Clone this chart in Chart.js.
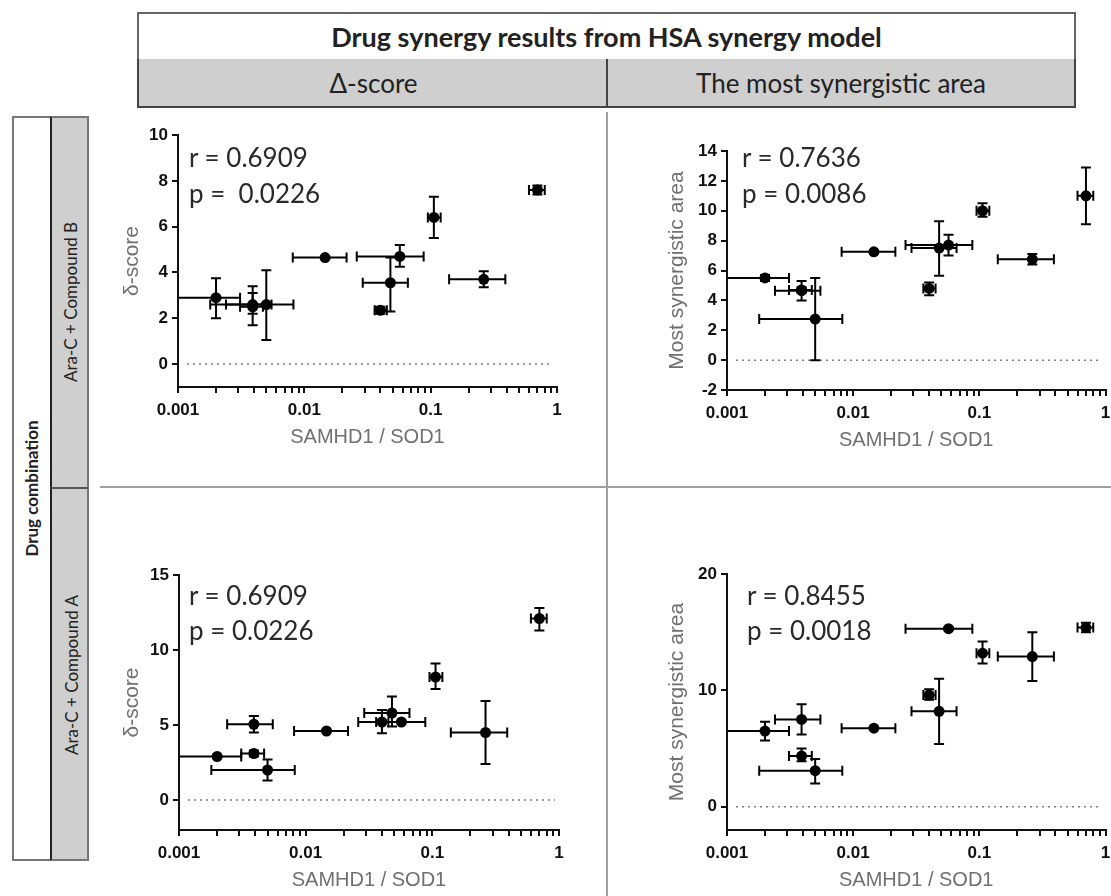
<!DOCTYPE html>
<html>
<head>
<meta charset="utf-8">
<script src="https://cdn.jsdelivr.net/npm/chart.js@4.4.1/dist/chart.umd.min.js"></script>
<style>
  body { margin: 0; width: 1111px; height: 896px; position: relative; overflow: hidden; background: #fff; font-family: Lato, sans-serif; }
  .box { position: absolute; box-sizing: border-box; }
  .cell { display: flex; align-items: center; justify-content: center; color: #222; }
  .rot { position: absolute; display: flex; align-items: center; justify-content: center; transform: rotate(-90deg); color: #222; white-space: nowrap; }
  .stat { position: absolute; font-family: Lato, sans-serif; font-size: 26px; color: #2a2a2a; line-height: 36px; white-space: pre; }
  canvas { position: absolute; }
</style>
</head>
<body>

<!-- table header -->
<div class="box cell" style="left:137px; top:12px; width:939px; height:49px; border:2px solid #666; border-bottom:2px solid #222; font-weight:bold; font-size:27px;">Drug synergy results from HSA synergy model</div>
<div class="box cell" style="left:137px; top:59px; width:471px; height:49px; background:#cfcfcf; border-left:2px solid #444; border-bottom:2px solid #444; font-size:26px;">Δ-score</div>
<div class="box cell" style="left:606px; top:59px; width:470px; height:49px; background:#cfcfcf; border-left:2px solid #444; border-right:2px solid #444; border-bottom:2px solid #444; font-size:26px;">The most synergistic area</div>

<!-- row header -->
<div class="box" style="left:12px; top:116px; width:77px; height:745px; border:2px solid #777;"></div>
<div class="box" style="left:50px; top:116px; width:39px; height:745px; background:#cfcfcf; border-left:2px solid #222; border-right:2px solid #777; border-top:2px solid #777; border-bottom:2px solid #777;"></div>
<div class="box" style="left:51px; top:487px; width:37px; height:2px; background:#555;"></div>
<div class="rot" style="left:-341px; top:469px; width:745px; height:39px; font-weight:bold; font-size:17px;">Drug combination</div>
<div class="rot" style="left:-116px; top:283px; width:372px; height:38px; font-size:17px;">Ara-C + Compound B</div>
<div class="rot" style="left:-116px; top:656px; width:373px; height:38px; font-size:17px;">Ara-C + Compound A</div>

<!-- panel dividers -->
<div class="box" style="left:606px; top:112px; width:2px; height:784px; background:#a0a0a0;"></div>
<div class="box" style="left:100px; top:486px; width:1011px; height:2px; background:#a0a0a0;"></div>

<canvas id="tl" width="500" height="329" style="left:100px; top:120px;"></canvas>
<canvas id="tr" width="484" height="332" style="left:627px; top:120px;"></canvas>
<canvas id="bl" width="500" height="352" style="left:100px; top:540px;"></canvas>
<canvas id="br" width="484" height="352" style="left:627px; top:540px;"></canvas>

<div class="stat" style="left:189px; top:139px;">r = 0.6909</div>
<div class="stat" style="left:189px; top:175px;">p =  0.0226</div>
<div class="stat" style="left:742px; top:139px;">r = 0.7636</div>
<div class="stat" style="left:742px; top:175px;">p = 0.0086</div>
<div class="stat" style="left:189px; top:577px;">r = 0.6909</div>
<div class="stat" style="left:189px; top:612px;">p = 0.0226</div>
<div class="stat" style="left:747px; top:577px;">r = 0.8455</div>
<div class="stat" style="left:747px; top:612px;">p = 0.0018</div>

<script>
// SAMHD1 / SOD1 ratio per sample (mean and error range)
const xVals = [0.002, 0.0039, 0.0039, 0.005, 0.0146, 0.040, 0.048, 0.057, 0.106, 0.263, 0.70];
const xLow  = [0.0008, 0.0024, 0.0031, 0.0018, 0.0081, 0.036, 0.029, 0.026, 0.095, 0.14, 0.60];
const xHigh = [0.0031, 0.0055, 0.0047, 0.0082, 0.0216, 0.045, 0.066, 0.088, 0.12, 0.39, 0.80];

// Ara-C + Compound B
const deltaB     = [2.9, 2.6, 2.5, 2.6, 4.65, 2.35, 3.55, 4.7, 6.4, 3.7, 7.6];
const deltaBLow  = [2.0, 1.7, 2.2, 1.05, 4.6, 2.2, 2.3, 4.25, 5.5, 3.35, 7.4];
const deltaBHigh = [3.75, 3.4, 3.1, 4.1, 4.7, 2.5, 4.65, 5.2, 7.3, 4.05, 7.8];
const areaB      = [5.5, 4.65, 4.7, 2.75, 7.25, 4.8, 7.5, 7.7, 10.0, 6.75, 11.0];
const areaBLow   = [5.3, 4.0, 4.5, 0, 7.2, 4.35, 5.65, 7.0, 9.6, 6.4, 9.1];
const areaBHigh  = [5.7, 5.3, 4.9, 5.5, 7.3, 5.2, 9.3, 8.4, 10.5, 7.1, 12.9];

// Ara-C + Compound A
const deltaA     = [2.9, 5.05, 3.1, 2.0, 4.6, 5.2, 5.8, 5.2, 8.2, 4.5, 12.1];
const deltaALow  = [2.85, 4.5, 2.9, 1.3, 4.55, 4.45, 4.9, 5.15, 7.4, 2.4, 11.3];
const deltaAHigh = [2.95, 5.6, 3.3, 2.7, 4.65, 6.0, 6.9, 5.25, 9.1, 6.6, 12.8];
const areaA      = [6.5, 7.5, 4.35, 3.1, 6.75, 9.6, 8.2, 15.3, 13.2, 12.9, 15.4];
const areaALow   = [5.7, 6.2, 3.9, 2.0, 6.7, 9.2, 5.4, 15.2, 12.3, 10.8, 15.0];
const areaAHigh  = [7.3, 8.8, 5.0, 4.1, 6.8, 10.1, 11.0, 15.4, 14.2, 15.0, 15.8];

// axes
const xMajor = [0.001, 0.01, 0.1, 1];
const xTickLabels = ['0.001', '0.01', '0.1', '1'];
const deltaBTicks = [0, 2, 4, 6, 8, 10];
const areaBTicks = [-2, 0, 2, 4, 6, 8, 10, 12, 14];
const deltaATicks = [0, 5, 10, 15];
const areaATicks = [0, 10, 20];

const xAllTicks = [];
xMajor.slice(0, 3).forEach(d => { for (let k = 1; k < 10; k++) xAllTicks.push(k * d); });
xAllTicks.push(1);

const errorBars = {
  id: 'errorBars',
  beforeDatasetsDraw(chart) {
    const { ctx, chartArea: a, scales: { x, y } } = chart;
    const ds = chart.data.datasets[0];
    ctx.save();
    const y0 = y.getPixelForValue(0);
    ctx.strokeStyle = '#808080';
    ctx.lineWidth = 1.5;
    ctx.setLineDash([2, 4]);
    ctx.beginPath();
    ctx.moveTo(a.left + 9, y0);
    ctx.lineTo(a.right - 4, y0);
    ctx.stroke();
    ctx.setLineDash([]);

    ctx.beginPath();
    ctx.rect(a.left + 1, a.top - 20, a.right - a.left + 20, a.bottom - a.top + 40);
    ctx.clip();
    ctx.strokeStyle = '#000';
    ctx.lineWidth = 2;
    const cap = 5;
    xVals.forEach((xv, i) => {
      const px = x.getPixelForValue(xv);
      const py = y.getPixelForValue(ds.yMid[i]);
      const l = x.getPixelForValue(xLow[i]);
      const r = x.getPixelForValue(xHigh[i]);
      const t = y.getPixelForValue(ds.yHi[i]);
      const b = y.getPixelForValue(ds.yLo[i]);
      ctx.beginPath();
      ctx.moveTo(l, py); ctx.lineTo(r, py);
      ctx.moveTo(l, py - cap); ctx.lineTo(l, py + cap);
      ctx.moveTo(r, py - cap); ctx.lineTo(r, py + cap);
      ctx.moveTo(px, t); ctx.lineTo(px, b);
      ctx.moveTo(px - cap, t); ctx.lineTo(px + cap, t);
      ctx.moveTo(px - cap, b); ctx.lineTo(px + cap, b);
      ctx.stroke();
    });
    ctx.restore();
  }
};

const tickFont = { family: 'Liberation Sans', size: 17, weight: 'bold' };

function panel(id, p) {
  new Chart(document.getElementById(id), {
    type: 'scatter',
    data: {
      datasets: [{
        data: xVals.map((x, i) => ({ x: x, y: p.y[i] })),
        yMid: p.y, yLo: p.lo, yHi: p.hi,
        backgroundColor: '#000',
        pointRadius: 5.5,
        borderWidth: 0
      }]
    },
    options: {
      responsive: false,
      animation: false,
      layout: { padding: { left: 0, top: p.top, right: p.right, bottom: 0 } },
      plugins: { legend: { display: false }, tooltip: { enabled: false } },
      scales: {
        x: {
          type: 'logarithmic', min: 0.001, max: 1,
          afterBuildTicks: s => { s.ticks = xAllTicks.map(v => ({ value: v })); },
          afterFit: s => { s.height = p.xH; s.paddingLeft = 0; s.paddingRight = 0; },
          ticks: {
            autoSkip: false, maxRotation: 0, padding: 7, color: '#111', font: tickFont,
            callback: v => { const i = xMajor.indexOf(v); return i >= 0 ? xTickLabels[i] : ''; }
          },
          grid: { drawOnChartArea: false, tickLength: 6, color: '#111', lineWidth: 2 },
          border: { color: '#111', width: 2 },
          title: { display: true, text: 'SAMHD1 / SOD1', color: '#707070', font: { family: 'Liberation Sans', size: 20 }, padding: 0 }
        },
        y: {
          min: p.min, max: p.max,
          afterBuildTicks: s => { s.ticks = p.ticks.map(v => ({ value: v })); },
          afterFit: s => { s.width = p.yW; s.paddingTop = 0; s.paddingBottom = 0; },
          ticks: { padding: 4, color: '#111', font: tickFont },
          grid: { drawOnChartArea: false, tickLength: 6, color: '#111', lineWidth: 2 },
          border: { color: '#111', width: 2 },
          title: { display: true, text: p.title, color: '#707070', font: { family: 'Liberation Sans', size: 21 }, padding: { top: p.titlePad, bottom: 0 } }
        }
      }
    },
    plugins: [errorBars]
  });
}

panel('tl', { y: deltaB, lo: deltaBLow, hi: deltaBHigh, min: -1, max: 10, ticks: deltaBTicks, title: 'δ-score',
  top: 15, right: 43, yW: 78, xH: 62, titlePad: 20 });
panel('tr', { y: areaB, lo: areaBLow, hi: areaBHigh, min: -2, max: 14, ticks: areaBTicks, title: 'Most synergistic area',
  top: 31, right: 4, yW: 100, xH: 62, titlePad: 38 });
panel('bl', { y: deltaA, lo: deltaALow, hi: deltaAHigh, min: -2, max: 15, ticks: deltaATicks, title: 'δ-score',
  top: 35, right: 41, yW: 79, xH: 62, titlePad: 20 });
panel('br', { y: areaA, lo: areaALow, hi: areaAHigh, min: -2, max: 20, ticks: areaATicks, title: 'Most synergistic area',
  top: 34, right: 4, yW: 100, xH: 62, titlePad: 38 });
</script>
</body>
</html>
